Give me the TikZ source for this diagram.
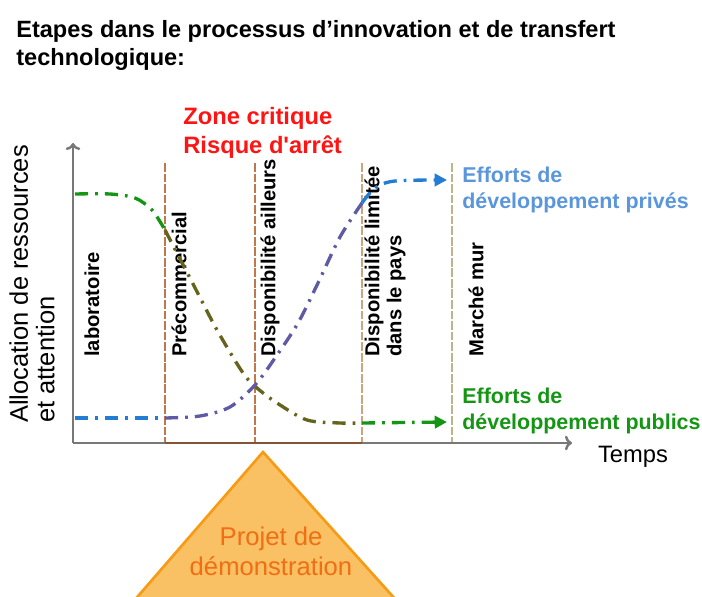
\documentclass[tikz,border=0pt]{standalone}
\usepackage{fontspec}
\setmainfont{Liberation Sans}[Ligatures=TeXOff]
\usetikzlibrary{arrows.meta}

\definecolor{zoneRed}{RGB}{255,20,20}
\definecolor{privBlue}{RGB}{90,150,220}
\definecolor{curveBlue}{RGB}{35,125,210}
\definecolor{pubGreen}{RGB}{20,150,20}
\definecolor{curveOlive}{RGB}{100,100,30}
\definecolor{curvePurple}{RGB}{95,90,165}
\definecolor{stageBrown}{RGB}{190,120,75}
\definecolor{stageTan}{RGB}{205,165,125}
\definecolor{stageKhaki}{RGB}{190,180,140}
\definecolor{demoFill}{RGB}{250,192,100}
\definecolor{demoEdge}{RGB}{247,155,20}
\definecolor{demoText}{RGB}{240,110,20}
\definecolor{axisGray}{RGB}{120,120,120}

\tikzset{
  axisline/.style={axisGray, line width=1.4pt},
  stageline/.style={line width=1.2pt, dash pattern=on 5pt off 1pt},
  effort/.style={line width=1.9pt, dash pattern=on 7.5pt off 4pt on 1.5pt off 4pt},
  stagelabel/.style={rotate=90, anchor=west, inner sep=0pt, align=left,
    font=\fontsize{11.5}{12.5}\selectfont\bfseries},
  effortlabel/.style={anchor=west, inner sep=0pt, align=left,
    font=\fontsize{12.2}{14.7}\selectfont\bfseries},
}

\begin{document}
\begin{tikzpicture}[x=0.02cm, y=-0.02cm]
  \clip (0,0) rectangle (702,597);

  % titre
  \node[anchor=north west, inner sep=0pt, align=left,
    font=\fontsize{13.4}{16.2}\selectfont\bfseries] (title) at (16,20)
    {Etapes dans le processus d’innovation et de transfert\\technologique:};

  % triangle du projet
  \fill[demoFill, draw=demoEdge, line width=1.5pt]
    (263,452) -- (126,610) -- (405,610) -- cycle;
  \node[align=center, text=demoText, font=\fontsize{14.6}{17}\selectfont]
    (demo) at (271,551) {Projet de\\démonstration};

  % etapes
  \draw[stageline, stageBrown] (165,163) -- (165,443);
  \draw[stageline, stageBrown] (255,163) -- (255,443);
  \draw[stageline, stageTan] (362,163) -- (362,443);
  \draw[stageline, stageKhaki] (452,163) -- (452,443);

  \node[stagelabel] (labo) at (92,357) {laboratoire};
  \node[stagelabel] (precom) at (179,357) {Précommercial};
  \node[stagelabel] (ailleurs) at (270,357) {Disponibilité ailleurs};
  \node[stagelabel] (pays) at (385,357) {Disponibilité limitée\\dans le pays};
  \node[stagelabel] (marche) at (476,357) {Marché mur};

  % axes
  \coordinate (origin) at (73,443);
  \coordinate (ytop) at (73,143);
  \coordinate (xend) at (572,443);
  \draw[axisline, -{To[length=4pt]}] (origin) -- (ytop);
  \draw[axisline, -{To[length=4pt]}] (origin) -- (xend);
  \draw[line width=1.4pt, stageBrown!70!black] (165,443) -- (362,443);

  \node[rotate=90, anchor=west, inner sep=0pt, align=left,
    font=\fontsize{14.5}{15}\selectfont] (yaxis) at (32,423)
    {Allocation de ressources\\et attention};
  \node[font=\fontsize{13.5}{15}\selectfont] (temps) at (633,457) {Temps};

  % zone critique
  \node[anchor=west, inner sep=0pt, align=left, text=zoneRed,
    font=\fontsize{13.5}{16.4}\selectfont\bfseries] (zone) at (183,133)
    {Zone critique\\Risque d'arrêt};

  % efforts publics
  \draw[effort, pubGreen] plot[smooth] coordinates
    {(75,194) (110,194) (135,198) (152,210) (165,230)};
  \draw[effort, curveOlive] plot[smooth] coordinates
    {(165,230) (192,282) (217,330) (243,373) (257,388) (277,403) (307,420) (340,423) (360,423)};
  \draw[effort, pubGreen, -{Triangle[length=7pt,width=7pt]}] (362,423) -- (447,422);

  % efforts prives
  \draw[effort, curveBlue] (75,418) -- (165,418);
  \draw[effort, curvePurple] plot[smooth] coordinates
    {(165,418) (200,416) (230,407) (255,385) (275,358) (298,323) (318,283) (340,237) (362,203)};
  \draw[effort, curveBlue, -{Triangle[length=7pt,width=7pt]}] plot[smooth] coordinates
    {(362,203) (375,188) (395,181) (447,180)};

  \node[effortlabel, text=privBlue] (prive) at (462,190)
    {Efforts de\\développement privés};
  \node[effortlabel, text=pubGreen] (public) at (462,411)
    {Efforts de\\développement publics};
\end{tikzpicture}
\end{document}
